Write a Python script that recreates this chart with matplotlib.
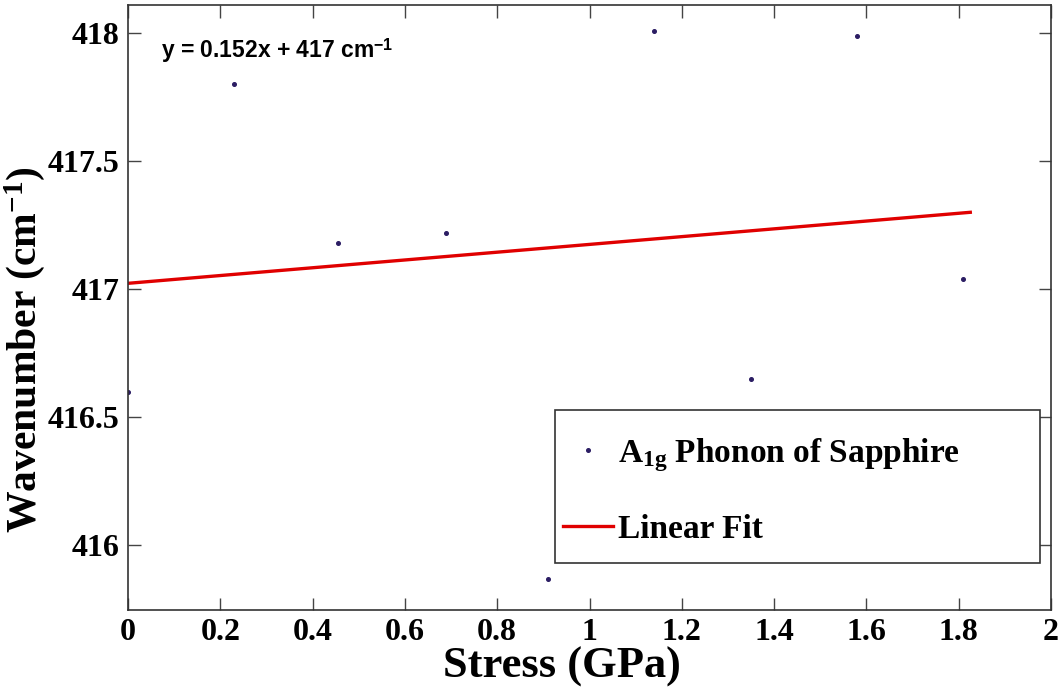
import matplotlib
matplotlib.use("Agg")
import matplotlib.pyplot as plt
from matplotlib.patches import Rectangle
import numpy as np

# Measured A1g phonon position versus applied stress
stress_gpa = [0.0, 0.23, 0.455, 0.69, 0.91, 1.14, 1.35, 1.58, 1.81]
wavenumber = [416.60, 417.80, 417.18, 417.22, 415.87, 418.01, 416.65, 417.99, 417.04]

# Linear fit parameters (slope in cm^-1/GPa, intercept in cm^-1)
fit_slope = 0.152
fit_intercept = 417.023
fit_range = [0.0, 1.825]

x_ticks = [0, 0.2, 0.4, 0.6, 0.8, 1, 1.2, 1.4, 1.6, 1.8, 2]
x_tick_labels = ["0", "0.2", "0.4", "0.6", "0.8", "1", "1.2", "1.4", "1.6", "1.8", "2"]
y_ticks = [416, 416.5, 417, 417.5, 418]
y_tick_labels = ["416", "416.5", "417", "417.5", "418"]

plt.rcParams["mathtext.fontset"] = "custom"
plt.rcParams["mathtext.rm"] = "Liberation Serif:bold"
plt.rcParams["mathtext.it"] = "Liberation Serif:bold"
plt.rcParams["mathtext.bf"] = "Liberation Serif:bold"
plt.rcParams["mathtext.sf"] = "Liberation Sans:bold"

serif = "Liberation Serif"
sans = "Liberation Sans"

fig = plt.figure(figsize=(10.62, 6.97), dpi=100)
ax = fig.add_axes([0.1205, 0.1248, 0.8692, 0.868])

ax.plot(stress_gpa, wavenumber, linestyle="none", marker="o", markersize=2.6,
        color="#2b1d63", label=r"A$_{\mathbf{1g}}$ Phonon of Sapphire")

xf = np.array(fit_range)
ax.plot(xf, fit_slope * xf + fit_intercept, color="#e00000", linewidth=2.4,
        label="Linear Fit")

ax.set_xlim(0, 2)
ax.set_ylim(415.747, 418.11)
ax.set_xticks(x_ticks)
ax.set_xticklabels(x_tick_labels, fontfamily=serif, fontweight="bold", fontsize=23)
ax.set_yticks(y_ticks)
ax.set_yticklabels(y_tick_labels, fontfamily=serif, fontweight="bold", fontsize=23)
ax.tick_params(direction="in", length=9, width=1.0, color="#444444",
               top=True, right=True, pad=6)
for s in ax.spines.values():
    s.set_color("#333333")
    s.set_linewidth(1.2)

ax.set_xlabel("Stress (GPa)", fontfamily=serif, fontweight="bold", fontsize=32)
ax.xaxis.set_label_coords(0.470, -0.061)
ax.set_ylabel(r"Wavenumber (cm$^{\mathbf{-1}}$)", fontfamily=serif,
              fontweight="bold", fontsize=30)
ax.yaxis.set_label_coords(-0.088, 0.43)

ax.text(0.036, 0.925,
        f"y = {fit_slope:.3f}x + {fit_intercept:.0f} cm" + r"$^{\mathsf{-1}}$",
        transform=ax.transAxes, fontfamily=sans, fontweight="bold", fontsize=16.5,
        va="center", ha="left")

# Legend box drawn as its own frame so the entries can sit close to its left edge
ax.add_patch(Rectangle((0.4626, 0.0777), 0.5254, 0.2529, transform=ax.transAxes,
                       facecolor="white", edgecolor="#333333", linewidth=1.2,
                       zorder=4))
leg = ax.legend(loc="center left", bbox_to_anchor=(0.4713, 0.198),
                prop={"family": serif, "weight": "bold", "size": 24},
                frameon=False, labelspacing=1.2, borderpad=0,
                handlelength=1.5, handletextpad=0.15, borderaxespad=0)
leg.set_zorder(5)

fig.savefig("out.png", dpi=100)
